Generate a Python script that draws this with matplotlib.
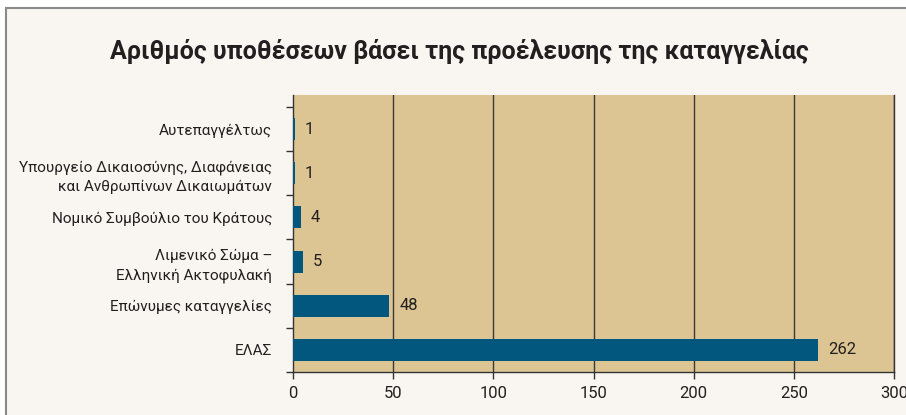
import matplotlib
matplotlib.use("Agg")
import matplotlib.pyplot as plt
from matplotlib.patches import Rectangle
import numpy as np

plt.rcParams['font.family'] = ['Roboto', 'DejaVu Sans']

categories = [
    "Αυτεπαγγέλτως",
    "Υπουργείο Δικαιοσύνης, Διαφάνειας\nκαι Ανθρωπίνων Δικαιωμάτων",
    "Νομικό Συμβούλιο του Κράτους",
    "Λιμενικό Σώμα –\nΕλληνική Ακτοφυλακή",
    "Επώνυμες καταγγελίες",
    "ΕΛΑΣ",
]
values = [1, 1, 4, 5, 48, 262]
xticks = [0, 50, 100, 150, 200, 250, 300]
title = "Αριθμός υποθέσεων βάσει της προέλευσης της καταγγελίας"

bar_color = "#02577F"
ax_bg = "#DCC593"
fig_bg = "#F9F6F1"
txt = "#231F20"

fig = plt.figure(figsize=(9.06, 4.15), dpi=100)
fig.patch.set_facecolor("white")
fig.patches.append(Rectangle((6/906, -0.1), 1.2, 1 - 8/415 + 0.1, transform=fig.transFigure,
                             facecolor=fig_bg, edgecolor="#8a8a8a", linewidth=1.5, zorder=-10))

ax = fig.add_axes([293/906, 43/415, (894-293)/906, (372-95)/415])
ax.set_facecolor(ax_bg)

n = len(categories)
ypos = np.arange(n)[::-1]
ax.barh(ypos, values, height=0.5, color=bar_color, zorder=3)
for y, v in zip(ypos, values):
    ax.text(v + 5, y, str(v), va="center", ha="left", fontsize=12, color=txt, zorder=4)

ax.set_xlim(0, 300)
ax.set_ylim(-0.5, 5.77)
ax.set_xticks(xticks)
ax.set_xticklabels([str(t) for t in xticks], fontsize=12, color=txt)
ax.set_yticks(ypos)
ax.set_yticklabels(categories, fontsize=11, color=txt, linespacing=1.45)
ax.set_yticks(np.arange(-0.5, n, 1.0), minor=True)
ax.tick_params(axis="y", which="major", length=0, pad=15)
ax.tick_params(axis="y", which="minor", length=5, width=1, color="#333333", direction="out")
ax.tick_params(axis="x", length=5, width=1, color="#333333", direction="out", pad=5)

for x in xticks[1:]:
    ax.axvline(x, color="#3a3a3a", linewidth=1.0, zorder=2)

ax.spines["top"].set_visible(False)
for s in ["left", "bottom", "right"]:
    ax.spines[s].set_color("#333333")
    ax.spines[s].set_linewidth(1.0)

fig.text(0.507, 0.876, title, ha="center", va="center", fontsize=18, fontweight="bold", color=txt)

fig.savefig("out.png", dpi=100)
